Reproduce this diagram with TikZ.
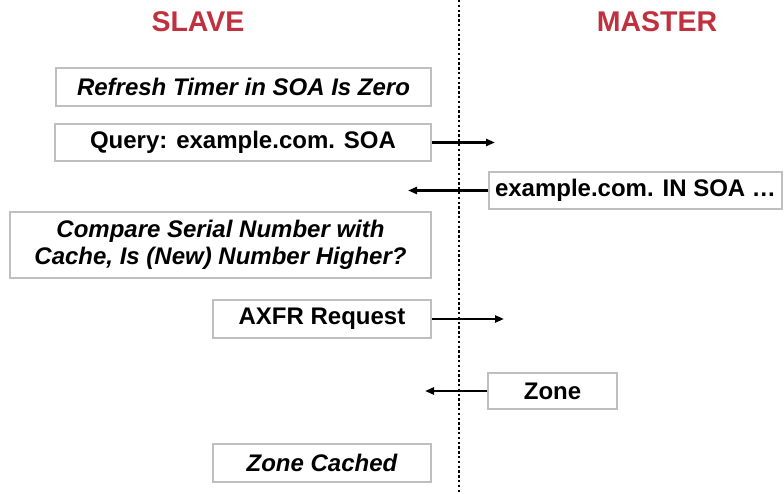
\documentclass[tikz,border=0pt]{standalone}
\usepackage{fontspec}
\setmainfont{Liberation Sans}
\usetikzlibrary{arrows.meta}
\definecolor{titlered}{HTML}{C0313F}
\definecolor{boxgray}{HTML}{BFBFBF}
\begin{document}
\begin{tikzpicture}[x=1pt,y=-1pt,
  stepbox/.style={draw=boxgray, line width=1.3pt, fill=white, inner sep=0pt,
    font=\fontsize{24}{27}\selectfont\bfseries},
  notebox/.style={stepbox, font=\fontsize{24}{27}\selectfont\bfseries\itshape},
  roletitle/.style={text=titlered, inner sep=0pt, font=\fontsize{28.5}{30}\selectfont\bfseries},
  msg/.style={line width=2.4pt, -{Triangle[length=9pt,width=7pt]}},
  divider/.style={line width=2.4pt, dash pattern=on 2.4pt off 2.4pt}]
\useasboundingbox (0,0) rectangle (784,494);

% column headings
\node[roletitle] (slave) at (198,22) {SLAVE};
\node[roletitle] (master) at (657,22) {MASTER};

% boundary between slave and master
\coordinate (divtop) at (459,0);
\coordinate (divbot) at (459,494);
\draw[divider] (divtop) -- (divbot);

% slave side
\node[notebox, minimum width=375pt, minimum height=38pt] (refresh) at (243.5,87) {Refresh Timer in SOA Is Zero};
\node[stepbox, minimum width=376pt, minimum height=37pt] (query) at (243,142.5) {Query: example.com. SOA};
\node[notebox, minimum width=421pt, minimum height=66pt, align=center] (compare) at (220.5,245)
  {Compare Serial Number with\\Cache, Is (New) Number Higher?};
\node[stepbox, minimum width=218pt, minimum height=38pt] (axfr) at (322,319) {AXFR Request};
\node[notebox, minimum width=218pt, minimum height=38pt] (cached) at (322,463) {Zone Cached};

% master side
\node[stepbox, minimum width=293pt, minimum height=37pt] (soa) at (635.5,190.5) {example.com. IN SOA …};
\node[stepbox, minimum width=129pt, minimum height=36pt] (zone) at (552.5,391) {Zone};

% message ends
\coordinate (queryend) at (495,142.5);
\coordinate (soaend) at (408,190.5);
\coordinate (axfrend) at (504,319);
\coordinate (zoneend) at (425,391);

\draw[msg] (query.east) -- (queryend);
\draw[msg] (soa.west) -- (soaend);
\draw[msg] (axfr.east) -- (axfrend);
\draw[msg] (zone.west) -- (zoneend);
\end{tikzpicture}
\end{document}
